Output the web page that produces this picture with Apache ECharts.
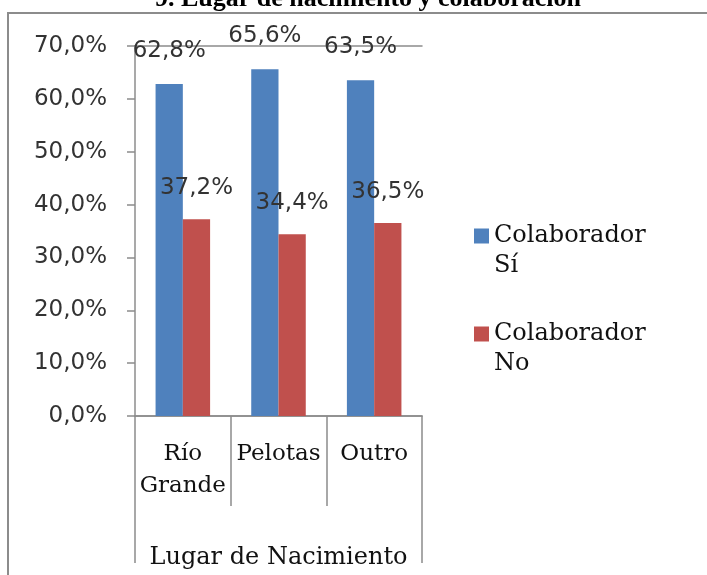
<!DOCTYPE html>
<html>
<head>
<meta charset="utf-8">
<script src="https://cdn.jsdelivr.net/npm/echarts@6/dist/echarts.min.js"></script>
<style>
  html, body { margin: 0; padding: 0; background: #fff; }
  #chart { width: 707px; height: 575px; }
</style>
</head>
<body>
<div id="chart"></div>
<script>
var categories = ["Río\nGrande", "Pelotas", "Outro"];
var seriesNames = ["Colaborador Sí", "Colaborador No"];
var colaboradorSi = [62.8, 65.6, 63.5];
var colaboradorNo = [37.2, 34.4, 36.5];

var gray = "#8c8c8c";
var serif = "DejaVu Serif";
var sans = "DejaVu Sans";

function pct(v) {
  return v.toFixed(1).replace(".", ",") + "%";
}

var chart = echarts.init(document.getElementById("chart"));
chart.setOption({
  animation: false,
  title: {
    text: "9. Lugar de nacimiento y colaboración",
    left: 363,
    textAlign: "center",
    top: -19,
    textStyle: { fontFamily: "Liberation Serif", fontWeight: "bold", fontSize: 26, color: "#000" }
  },
  graphic: [{
    type: "rect",
    shape: { x: 8, y: 13, width: 800, height: 700 },
    style: { fill: null, stroke: gray, lineWidth: 2 },
    silent: true
  }],
  legend: {
    orient: "vertical",
    left: 469,
    top: 186,
    itemWidth: 15,
    itemHeight: 15,
    itemGap: 8,
    icon: "rect",
    data: seriesNames,
    formatter: function (name) {
      // blank first line keeps the icon level with the first text line
      return " \n" + name.replace(" ", "\n");
    },
    textStyle: {
      fontFamily: serif,
      fontSize: 24,
      color: "#111",
      lineHeight: 30
    }
  },
  grid: { left: 135, right: 285, top: 46, bottom: 157 },
  xAxis: [{
    type: "category",
    data: categories,
    position: "bottom",
    axisLine: { lineStyle: { color: gray, width: 1.5 } },
    axisTick: { show: true, alignWithLabel: false, length: 90, lineStyle: { color: gray, width: 1.5 } },
    axisLabel: {
      interval: 0,
      hideOverlap: false,
      margin: 22,
      fontFamily: serif,
      fontSize: 23,
      lineHeight: 32,
      color: "#111",
      verticalAlign: "top"
    }
  }, {
    type: "category",
    data: [""],
    position: "bottom",
    name: "Lugar de Nacimiento",
    nameLocation: "middle",
    nameGap: 130,
    nameTextStyle: { fontFamily: serif, fontSize: 24, color: "#111" },
    axisLine: { lineStyle: { color: gray, width: 1.5 } },
    axisTick: { show: true, length: 147, lineStyle: { color: gray, width: 1.5 } },
    axisLabel: { show: false }
  }, {
    type: "category",
    data: [""],
    position: "top",
    axisLine: { lineStyle: { color: gray, width: 1.5 } },
    axisTick: { show: false },
    axisLabel: { show: false }
  }],
  yAxis: {
    type: "value",
    min: 0,
    max: 70,
    interval: 10,
    axisLine: { show: true, lineStyle: { color: gray, width: 1.5 } },
    axisTick: { show: true, length: 8, lineStyle: { color: gray, width: 1.5 } },
    splitLine: { show: false },
    axisLabel: {
      margin: 28,
      fontFamily: sans,
      fontSize: 23,
      color: "#333",
      formatter: pct
    }
  },
  series: [{
    name: seriesNames[0],
    type: "bar",
    data: colaboradorSi,
    barGap: "0%",
    barCategoryGap: "43%",
    itemStyle: { color: "#4F81BD" },
    label: {
      show: true,
      position: "top",
      distance: 22,
      fontFamily: sans,
      fontSize: 23,
      color: "#333",
      formatter: function (p) { return pct(p.value); }
    }
  }, {
    name: seriesNames[1],
    type: "bar",
    data: colaboradorNo,
    itemStyle: { color: "#C0504D" },
    label: {
      show: true,
      position: "top",
      distance: 20,
      fontFamily: sans,
      fontSize: 23,
      color: "#333",
      formatter: function (p) { return pct(p.value); }
    }
  }]
});
</script>
</body>
</html>
